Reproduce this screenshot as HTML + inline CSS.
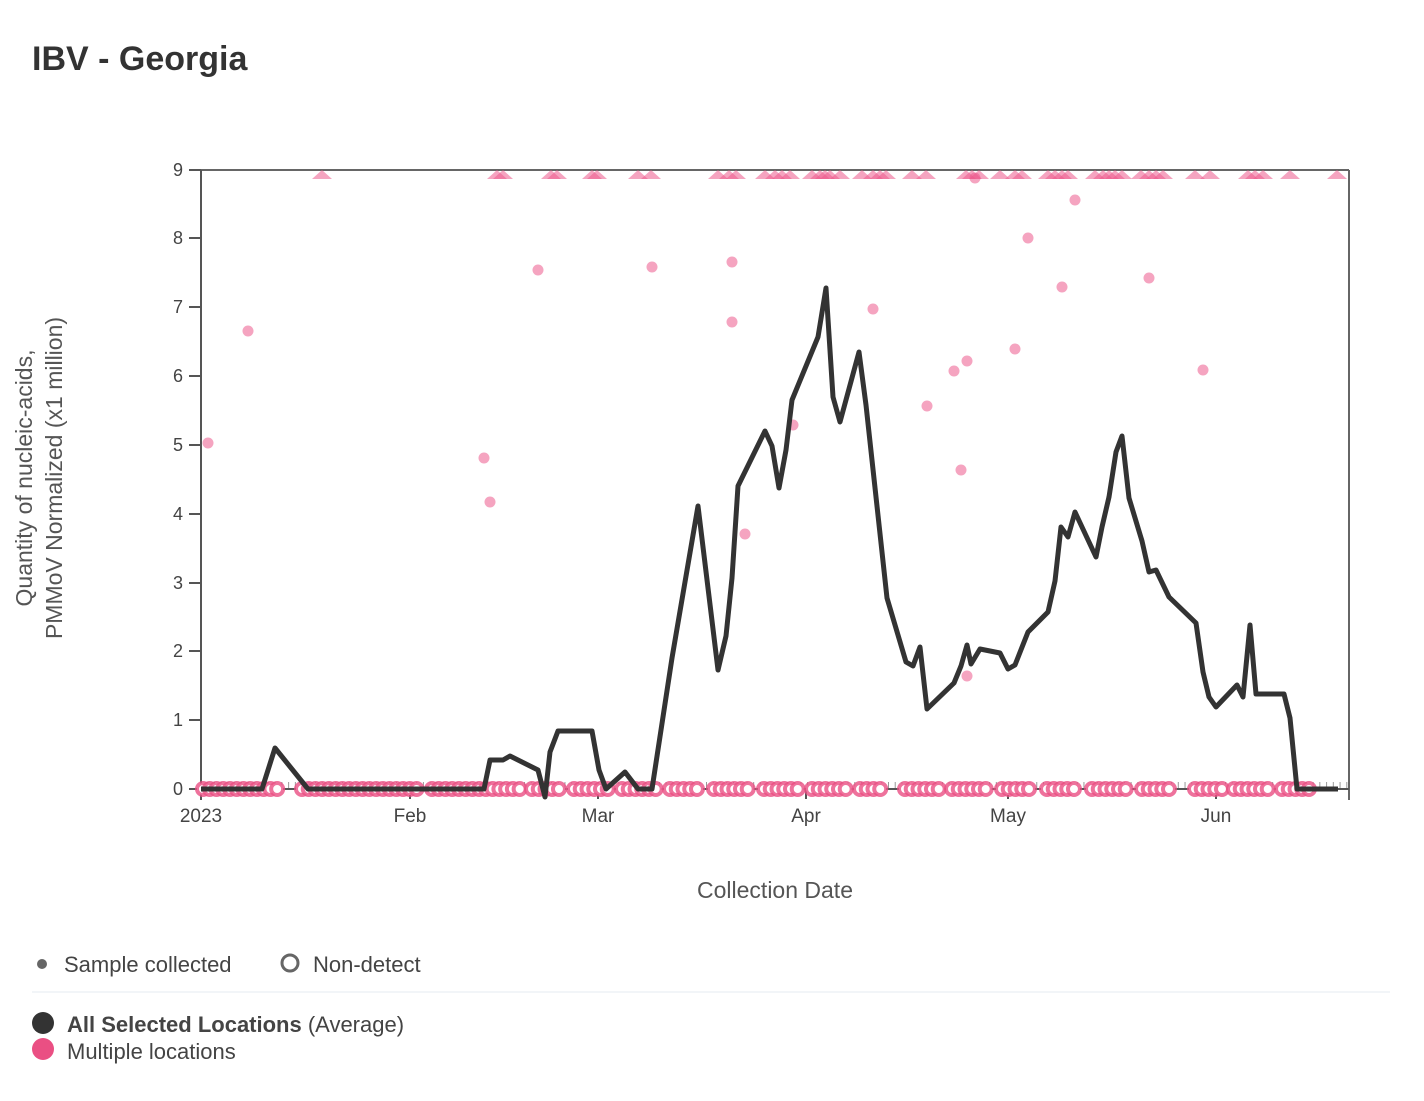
<!DOCTYPE html>
<html><head><meta charset="utf-8"><style>
body{margin:0;background:#fff;width:1424px;height:1096px;overflow:hidden;font-family:"Liberation Sans",sans-serif}
</style></head><body>
<svg id="s" width="1424" height="1096" xmlns="http://www.w3.org/2000/svg" font-family="Liberation Sans, sans-serif">
<text x="32" y="70" font-size="34" font-weight="bold" fill="#333">IBV - Georgia</text>
<g id="ticks" stroke="#999" stroke-width="1"></g>
<line x1="201" y1="170" x2="1349" y2="170" stroke="#666" stroke-width="2"/>
<line x1="1349" y1="170" x2="1349" y2="800" stroke="#666" stroke-width="2"/>
<line x1="201" y1="170" x2="201" y2="800" stroke="#555" stroke-width="2"/>
<line x1="201" y1="789" x2="1349" y2="789" stroke="#555" stroke-width="2"/>
<g font-size="18" fill="#444" text-anchor="end">
<text x="183" y="795">0</text><text x="183" y="726">1</text><text x="183" y="657">2</text><text x="183" y="589">3</text><text x="183" y="520">4</text><text x="183" y="451">5</text><text x="183" y="382">6</text><text x="183" y="313">7</text><text x="183" y="244">8</text><text x="183" y="176">9</text>
</g>
<g stroke="#555" stroke-width="2">
<line x1="189" y1="789" x2="201" y2="789"/><line x1="189" y1="720" x2="201" y2="720"/><line x1="189" y1="651" x2="201" y2="651"/><line x1="189" y1="583" x2="201" y2="583"/><line x1="189" y1="514" x2="201" y2="514"/><line x1="189" y1="445" x2="201" y2="445"/><line x1="189" y1="376" x2="201" y2="376"/><line x1="189" y1="307" x2="201" y2="307"/><line x1="189" y1="238" x2="201" y2="238"/><line x1="189" y1="170" x2="201" y2="170"/>
<line x1="410" y1="789" x2="410" y2="799"/><line x1="598" y1="789" x2="598" y2="799"/><line x1="806" y1="789" x2="806" y2="799"/><line x1="1008" y1="789" x2="1008" y2="799"/><line x1="1216" y1="789" x2="1216" y2="799"/>
</g>
<g font-size="19" fill="#444" text-anchor="middle">
<text x="201" y="822">2023</text><text x="410" y="822">Feb</text><text x="598" y="822">Mar</text><text x="806" y="822">Apr</text><text x="1008" y="822">May</text><text x="1216" y="822">Jun</text>
</g>
<text x="775" y="898" font-size="23" fill="#555" text-anchor="middle">Collection Date</text>
<g font-size="23" fill="#555" text-anchor="middle" transform="rotate(-90)">
<text x="-478" y="32">Quantity of nucleic-acids,</text>
<text x="-478" y="62">PMMoV Normalized (x1 million)</text>
</g>
<g id="tri" fill="#ec5a8c" fill-opacity="0.55"></g>
<g id="nd"></g>
<g id="dots" fill="#ec5a8c" fill-opacity="0.55"></g>
<polyline fill="none" stroke="#333" stroke-width="5" stroke-linejoin="round" points="201,789 262,789 275,748 308,789 484,789 490,760 503,760 510,756 538,770 545,797 550,752 558,731 592,731 599,770 606,789 625,772 638,789 652,789 672,658 698,506 718,670 726,636 732,578 738,486 765,431 772,446 779,488 786,450 792,400 818,337 826,288 833,397 840,422 859,352 866,405 887,598 906,662 913,666 920,647 927,709 954,683 961,666 967,645 971,664 980,649 1000,653 1008,669 1015,665 1028,632 1048,612 1055,581 1061,527 1068,537 1075,512 1096,557 1102,527 1109,497 1116,452 1122,436 1129,498 1142,541 1149,572 1156,570 1169,597 1196,623 1203,672 1209,697 1216,707 1237,685 1243,697 1250,625 1256,694 1284,694 1290,718 1297,789 1338,789"/>
<circle cx="42" cy="964" r="5" fill="#666"/>
<text x="64" y="972" font-size="22" fill="#444">Sample collected</text>
<circle cx="290" cy="963" r="8" fill="none" stroke="#666" stroke-width="3"/>
<text x="313" y="972" font-size="22" fill="#444">Non-detect</text>
<line x1="32" y1="992" x2="1390" y2="992" stroke="#eef2f6" stroke-width="1.5"/>
<circle cx="43" cy="1023" r="11" fill="#333"/>
<text x="67" y="1032" font-size="22" fill="#444"><tspan font-weight="bold">All Selected Locations</tspan> (Average)</text>
<circle cx="43" cy="1049" r="11" fill="#ea4f83"/>
<text x="67" y="1059" font-size="22" fill="#444">Multiple locations</text>
</svg>
<script>
var NS="http://www.w3.org/2000/svg";
function el(t,a,p){var e=document.createElementNS(NS,t);for(var k in a)e.setAttribute(k,a[k]);document.getElementById(p).appendChild(e);}
var d=6.74;
for(var x=201;x<1350;x+=d){el("line",{x1:x,y1:789,x2:x,y2:782},"ticks");}
var tr=[322,497,503,551,557,592,597,638,651,718,729,736,765,775,782,790,812,820,825,830,840,862,873,880,886,912,926,966,972,979,1000,1015,1022,1048,1055,1062,1068,1095,1103,1109,1115,1122,1141,1149,1156,1163,1195,1210,1248,1255,1263,1290,1337];
tr.forEach(function(x){el("polygon",{points:(x-10)+",179 "+x+",170 "+(x+10)+",179"},"tri");});
var ds=[[208,443],[248,331],[484,458],[490,502],[538,270],[652,267],[732,262],[732,322],[745,534],[793,425],[873,309],[927,406],[954,371],[961,470],[967,361],[967,676],[975,178],[1015,349],[1028,238],[1062,287],[1075,200],[1149,278],[1203,370]];
ds.forEach(function(p){el("circle",{cx:p[0],cy:p[1],r:5.5},"dots");});
var rg=[[201,278],[300,420],[430,520],[530,560],[572,610],[620,660],[668,702],[712,750],[762,800],[810,850],[858,885],[903,942],[950,990],[1000,1030],[1045,1080],[1090,1130],[1140,1172],[1193,1225],[1232,1270],[1280,1312],[1337,1338]];
rg.forEach(function(r){for(var x=r[0]+2;x<=r[1];x+=d){el("circle",{cx:x,cy:789,r:6,fill:"#fff",stroke:"#ea4f83","stroke-width":4,"stroke-opacity":0.8},"nd");}});
</script>
</body></html>
